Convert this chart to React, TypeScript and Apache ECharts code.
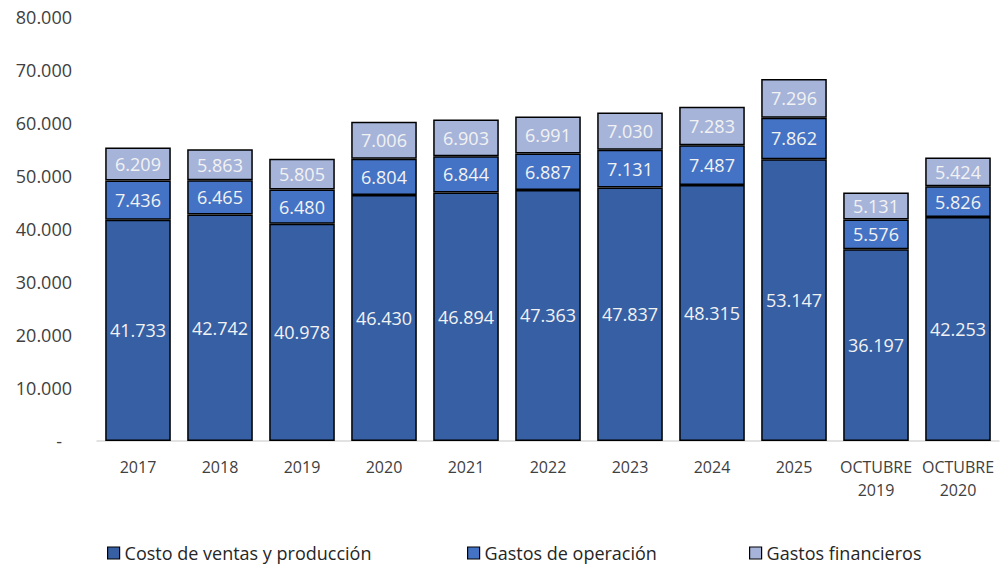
import React, { useEffect, useRef } from "react";
import * as echarts from "echarts";

const categories = ["2017", "2018", "2019", "2020", "2021", "2022", "2023", "2024", "2025", "OCTUBRE\n2019", "OCTUBRE\n2020"];
const costoVentas = [41733, 42742, 40978, 46430, 46894, 47363, 47837, 48315, 53147, 36197, 42253];
const gastosOperacion = [7436, 6465, 6480, 6804, 6844, 6887, 7131, 7487, 7862, 5576, 5826];
const gastosFinancieros = [6209, 5863, 5805, 7006, 6903, 6991, 7030, 7283, 7296, 5131, 5424];
const seriesNames = ["Costo de ventas y producción", "Gastos de operación", "Gastos financieros"];
const colors = ["#365FA4", "#4472C4", "#A6B4DA"];

const FONT = "'Open Sans', 'Noto Sans', sans-serif";

function fmt(v: number): string {
  const s = Math.round(v).toString();
  return s.replace(/\B(?=(\d{3})+(?!\d))/g, ".");
}

export default function App() {
  const ref = useRef<HTMLDivElement>(null);
  useEffect(() => {
    if (!ref.current) return;
    const chart = echarts.init(ref.current, null, { renderer: "svg" });
    const datasets = [costoVentas, gastosOperacion, gastosFinancieros];
    const legendLefts = [107, 467, 749];
    chart.setOption({
      animation: false,
      textStyle: { fontFamily: FONT },
      grid: { left: 97, right: 8, top: 17, bottom: 123, containLabel: false },
      legend: seriesNames.map((n, i) => ({
        data: [n],
        left: legendLefts[i],
        top: 543,
        padding: 0,
        itemWidth: 12,
        itemHeight: 12,
        icon: "rect",
        itemGap: 5,
        textStyle: { fontSize: 18, lineHeight: 20, color: "#262626", fontFamily: FONT },
        itemStyle: { borderColor: "#000", borderWidth: 1.2 },
      })),
      xAxis: {
        type: "category",
        data: categories,
        axisLine: { show: true, lineStyle: { color: "#D9D9D9", width: 1.5 } },
        axisTick: { show: false },
        axisLabel: { interval: 0, fontSize: 16, color: "#404040", margin: 14, lineHeight: 23, fontFamily: FONT },
      },
      yAxis: {
        type: "value",
        min: 0,
        max: 80000,
        interval: 10000,
        splitLine: { show: false },
        axisLine: { show: false },
        axisTick: { show: false },
        axisLabel: {
          fontSize: 18,
          color: "#404040",
          margin: 25,
          fontFamily: FONT,
          formatter: (v: number) => (v === 0 ? "{d|-}" : fmt(v)),
          rich: { d: { fontSize: 18, color: "#404040", padding: [0, 10, 0, 0], fontFamily: FONT } },
        },
      },
      series: seriesNames.map((n, i) => ({
        name: n,
        type: "bar",
        stack: "total",
        data: datasets[i],
        barWidth: "80%",
        itemStyle: { color: colors[i], borderColor: "#000", borderWidth: 1.5 },
        label: {
          show: true,
          position: "inside",
          color: "#F2F2F2",
          fontSize: 18,
          fontFamily: FONT,
          formatter: (p: any) => fmt(p.value),
        },
      })),
    });
    return () => chart.dispose();
  }, []);
  return <div ref={ref} style={{ width: 1007, height: 564, position: "absolute", left: 0, top: 0 }} />;
}
